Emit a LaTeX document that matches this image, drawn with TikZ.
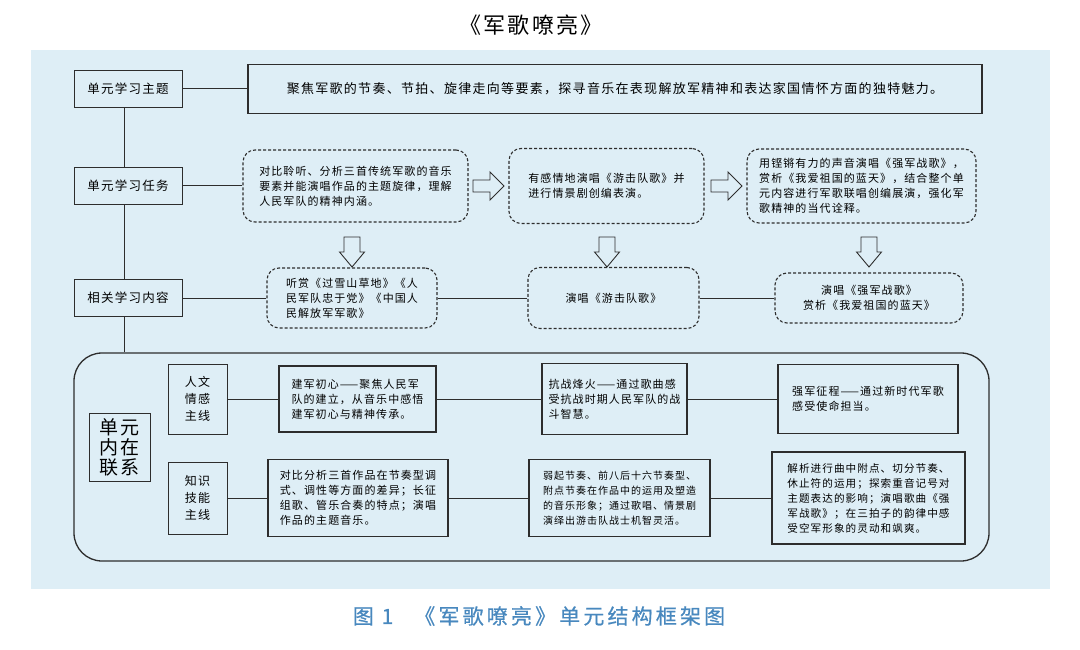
\documentclass[tikz,border=0pt]{standalone}
\usepackage{fontspec}
\setmainfont{Noto Sans CJK SC}
\newfontfamily\cjk[LetterSpace=10]{Noto Sans CJK SC}
\newfontfamily\capfont[LetterSpace=15,FakeBold=0.6]{Noto Sans CJK SC}

\definecolor{bgblue}{RGB}{222,238,246}
\definecolor{linegray}{RGB}{45,45,45}
\definecolor{capblue}{RGB}{72,136,190}

\tikzset{
  wire/.style={draw=linegray, line width=1pt},
  lab/.style={draw=linegray, line width=1pt, fill=bgblue, inner sep=0pt, align=center,
    font=\cjk\fontsize{12.5}{16}\selectfont},
  solidbox/.style={draw=linegray, line width=1.6pt, fill=bgblue, inner sep=0pt, align=left,
    font=\cjk\fontsize{11}{15}\selectfont},
  dashbox/.style={draw=linegray, line width=1.1pt, dash pattern=on 3pt off 2pt, fill=bgblue,
    rounded corners=12pt, inner sep=0pt, align=left, font=\cjk\fontsize{11}{15}\selectfont},
  arrowline/.style={draw=linegray, line width=0.9pt},
  rarrow/.pic={\draw[arrowline] (-15.5,-6) -- (1.5,-6) -- (1.5,-14) -- (15.5,0) -- (1.5,14) -- (1.5,6) -- (-15.5,6) -- cycle;},
  darrow/.pic={\draw[arrowline] (-8,-15) -- (8,-15) -- (8,0) -- (12.5,0) -- (0,15) -- (-12.5,0) -- (-8,0) -- cycle;}
}

\begin{document}
\begin{tikzpicture}[x=1pt,y=-1pt]
\useasboundingbox (0,0) rectangle (1080,650);
\fill[bgblue] (31,50) rectangle (1050,589);

\node (title) at (531,25) {\cjk\fontsize{22}{24}\selectfont 《军歌嘹亮》};
\node[text=capblue] (caption) at (539,616) {\capfont\fontsize{21}{23}\selectfont 图~1\quad《军歌嘹亮》单元结构框架图};

\node[lab, minimum width=108, minimum height=37] (thm) at (128,89) {单元学习主题};
\node[solidbox, minimum width=734, minimum height=49, font=\cjk\fontsize{13}{16}\selectfont] (thmText) at (615,89) {聚焦军歌的节奏、节拍、旋律走向等要素，探寻音乐在表现解放军精神和表达家国情怀方面的独特魅力。};

\node[lab, minimum width=108, minimum height=37] (task) at (128,186) {单元学习任务};
\node[dashbox, minimum width=225, minimum height=72] (taskA) at (355.5,186) {对比聆听、分析三首传统军歌的音乐\\要素并能演唱作品的主题旋律，理解\\人民军队的精神内涵。};
\node[dashbox, minimum width=195, minimum height=75] (taskB) at (606.5,186) {有感情地演唱《游击队歌》并\\进行情景剧创编表演。};
\node[dashbox, minimum width=229, minimum height=74] (taskC) at (861.5,186) {用铿锵有力的声音演唱《强军战歌》，\\赏析《我爱祖国的蓝天》，结合整个单\\元内容进行军歌联唱创编展演，强化军\\歌精神的当代诠释。};
\pic at (488.5,186) {rarrow};
\pic at (726.5,186) {rarrow};

\pic at (352,252) {darrow};
\pic at (607,252) {darrow};
\pic at (869,252) {darrow};

\node[lab, minimum width=108, minimum height=37] (cont) at (128,298) {相关学习内容};
\node[dashbox, minimum width=170, minimum height=60] (contA) at (352,298) {听赏《过雪山草地》《人\\民军队忠于党》《中国人\\民解放军军歌》};
\node[dashbox, minimum width=171, minimum height=61] (contB) at (613.5,298) {演唱《游击队歌》};
\node[dashbox, minimum width=188, minimum height=50, align=center] (contC) at (869,298) {演唱《强军战歌》\\赏析《我爱祖国的蓝天》};

\node[draw=linegray, line width=1.3pt, rounded corners=28pt, minimum width=915, minimum height=208] (frame) at (531.5,457) {};
\node[lab, minimum width=61, minimum height=68, font=\cjk\fontsize{19}{20}\selectfont] (unit) at (119.5,447) {单元\\内在\\联系};

\node[lab, minimum width=59, minimum height=70, font=\cjk\fontsize{12}{17}\selectfont] (human) at (197.5,399) {人文\\情感\\主线};
\node[solidbox, minimum width=157, minimum height=66] (humA) at (357.5,399) {建军初心——聚焦人民军\\队的建立，从音乐中感悟\\建军初心与精神传承。};
\node[solidbox, minimum width=145, minimum height=71] (humB) at (614.5,399) {抗战烽火——通过歌曲感\\受抗战时期人民军队的战\\斗智慧。};
\node[solidbox, minimum width=180, minimum height=69] (humC) at (868,399) {强军征程——通过新时代军歌\\感受使命担当。};

\node[lab, minimum width=59, minimum height=72, font=\cjk\fontsize{12}{17}\selectfont] (skill) at (197.5,498) {知识\\技能\\主线};
\node[solidbox, minimum width=180, minimum height=77] (skillA) at (358,498) {对比分析三首作品在节奏型调\\式、调性等方面的差异；长征\\组歌、管乐合奏的特点；演唱\\作品的主题音乐。};
\node[solidbox, minimum width=181, minimum height=77, font=\cjk\fontsize{10}{15}\selectfont] (skillB) at (619.5,498) {弱起节奏、前八后十六节奏型、\\附点节奏在作品中的运用及塑造\\的音乐形象；通过歌唱、情景剧\\演绎出游击队战士机智灵活。};
\node[solidbox, minimum width=193, minimum height=92, font=\cjk\fontsize{10.6}{15}\selectfont] (skillC) at (868.5,498) {解析进行曲中附点、切分节奏、\\休止符的运用；探索重音记号对\\主题表达的影响；演唱歌曲《强\\军战歌》；在三拍子的韵律中感\\受空军形象的灵动和飒爽。};

\coordinate (spine) at (124,0);
\draw[wire] (thm.south -| spine) -- (task.north -| spine);
\draw[wire] (task.south -| spine) -- (cont.north -| spine);
\draw[wire] (cont.south -| spine) -- (frame.north -| spine);
\draw[wire] (thm) -- (thmText);
\draw[wire] (task) -- (taskA);
\draw[wire] (cont) -- (contA);
\draw[wire] (contA) -- (contB);
\draw[wire] (contB) -- (contC);
\draw[wire] (human) -- (humA);
\draw[wire] (humA) -- (humB);
\draw[wire] (humB) -- (humC);
\draw[wire] (skill) -- (skillA);
\draw[wire] (skillA) -- (skillB);
\draw[wire] (skillB) -- (skillC);
\end{tikzpicture}
\end{document}
